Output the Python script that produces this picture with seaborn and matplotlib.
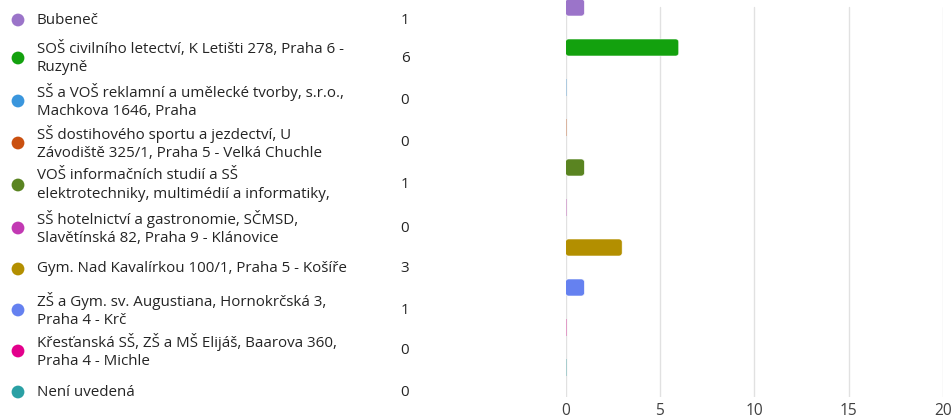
import numpy as np
import pandas as pd
import seaborn as sns
from matplotlib import pyplot as plt
from matplotlib.patches import FancyBboxPatch

# data
labels = [
    "Bubeneč",
    "SOŠ civilního letectví, K Letišti 278, Praha 6 -\nRuzyně",
    "SŠ a VOŠ reklamní a umělecké tvorby, s.r.o.,\nMachkova 1646, Praha",
    "SŠ dostihového sportu a jezdectví, U\nZávodiště 325/1, Praha 5 - Velká Chuchle",
    "VOŠ informačních studií a SŠ\nelektrotechniky, multimédií a informatiky,",
    "SŠ hotelnictví a gastronomie, SČMSD,\nSlavětínská 82, Praha 9 - Klánovice",
    "Gym. Nad Kavalírkou 100/1, Praha 5 - Košíře",
    "ZŠ a Gym. sv. Augustiana, Hornokrčská 3,\nPraha 4 - Krč",
    "Křesťanská SŠ, ZŠ a MŠ Elijáš, Baarova 360,\nPraha 4 - Michle",
    "Není uvedená",
]
counts = [1, 6, 0, 0, 1, 0, 3, 1, 0, 0]
colors = ["#9B74C9", "#13A10E", "#3A96DD", "#CA5010", "#5A8421",
          "#C239B3", "#B38F00", "#6581F0", "#E3008C", "#2AA0A4"]
x_ticks = [0, 5, 10, 15, 20]

df = pd.DataFrame({"label": [str(i) for i in range(len(counts))], "count": counts})

sns.set_theme(style="white")
plt.rcParams["font.family"] = ["Open Sans", "DejaVu Sans"]

fig = plt.figure(figsize=(9.52, 4.16), dpi=100)
ax = fig.add_axes([565.5 / 952, 1 - 397 / 416, (943 - 565.5) / 952, 397 / 416])

sns.barplot(data=df, x="count", y="label", hue="label", palette=colors,
            orient="h", width=0.425, legend=False, ax=ax, saturation=1)

ax.set_xlim(0, 20)
ax.set_ylim(9.7375, -0.1875)

# rounded bars, pale sliver for zeros
for p, c, v in zip(ax.patches, colors, counts):
    x, y, w, h = p.get_x(), p.get_y(), p.get_width(), p.get_height()
    p.set_visible(False)
    if v == 0:
        ax.add_patch(plt.Rectangle((0, y), 0.09, h, color=c, alpha=0.3, lw=0, zorder=3))
        continue
    ax.add_patch(FancyBboxPatch((x, y), w, h,
                                boxstyle="round,pad=0,rounding_size=0.16",
                                mutation_aspect=0.47, fc=c, ec="white", lw=0.4, zorder=3))

for t in x_ticks:
    ax.axvline(t, ymin=0, ymax=0.983, color="#e1e1e1", lw=1, zorder=1)

for s in ax.spines.values():
    s.set_visible(False)
ax.set_xticks(x_ticks)
ax.set_yticks([])
ax.set_xlabel("")
ax.set_ylabel("")
ax.tick_params(axis="x", length=0, pad=4, labelsize=11.2, labelcolor="#404040")

# legend on the left
lax = fig.add_axes([0, 0, 1, 1])
lax.set_xlim(0, 952)
lax.set_ylim(416, 0)
lax.axis("off")
leg_y = [20, 58, 101, 143, 185, 228, 269, 310, 351, 392]
lax.scatter([18] * len(leg_y), leg_y, s=85, c=colors, lw=0)
for yy, lab, v in zip(leg_y, labels, counts):
    lax.text(37, yy, lab, va="center", ha="left", fontsize=10.9,
             color="#242424", linespacing=1.3)
    lax.text(405, yy, str(v), va="center", ha="center", fontsize=10.9, color="#242424")

fig.savefig("out.png", dpi=100)
